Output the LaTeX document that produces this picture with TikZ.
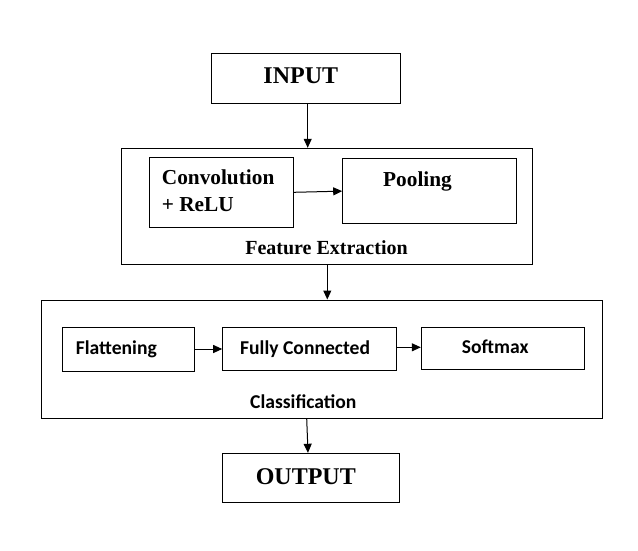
\documentclass[tikz,border=0pt]{standalone}
\usepackage{fontspec}
\setmainfont{Liberation Serif}
\newfontfamily\calfont{Carlito}
\usetikzlibrary{arrows.meta}
\begin{document}
\begin{tikzpicture}[x=1bp,y=-1bp,
  box/.style={draw, line width=1bp, inner sep=0, rectangle},
  arr/.style={draw, line width=1bp, -{Triangle[length=9bp,width=8bp]}},
  bigtxt/.style={font=\fontsize{24bp}{28bp}\selectfont\bfseries, inner sep=0, anchor=base},
  midtxt/.style={font=\fontsize{21.3bp}{26bp}\selectfont\bfseries, inner sep=0, anchor=base west},
  captxt/.style={font=\fontsize{20bp}{24bp}\selectfont\bfseries, inner sep=0, anchor=base},
  caltxt/.style={font=\calfont\fontsize{19.6bp}{24bp}\selectfont\bfseries, inner sep=0, anchor=base west}
]
\useasboundingbox (0,0) rectangle (638,551);

% boxes
\node[box, minimum width=189.7bp, minimum height=50bp] (input) at (305.85,78.3) {};
\node[box, minimum width=410.6bp, minimum height=115.7bp] (feature) at (327,206.15) {};
\node[box, minimum width=144bp, minimum height=70bp] (conv) at (221.3,192.3) {};
\node[box, minimum width=174bp, minimum height=64.3bp] (pool) at (429.7,191.15) {};
\node[box, minimum width=561bp, minimum height=118bp] (class) at (322.2,359) {};
\node[box, minimum width=132bp, minimum height=43.7bp] (flat) at (128.3,349.15) {};
\node[box, minimum width=174bp, minimum height=42.7bp] (fc) at (309.7,348.65) {};
\node[box, minimum width=163bp, minimum height=41.7bp] (soft) at (502.8,348.15) {};
\node[box, minimum width=176.7bp, minimum height=49.4bp] (output) at (310.65,478) {};

% texts
\node[bigtxt] (tin) at (300.8,84) {INPUT};
\node[midtxt] (tconv1) at (161.7,185) {Convolution};
\node[midtxt] (tconv2) at (161.7,211.7) {+ ReLU};
\node[midtxt] (tpool) at (383,186.7) {Pooling};
\node[captxt] (tfeat) at (326.5,255) {Feature Extraction};
\node[caltxt] (tflat) at (75.7,354) {Flattening};
\node[caltxt] (tfc) at (240,354) {Fully Connected};
\node[caltxt] (tsoft) at (461.7,353.5) {Softmax};
\node[caltxt] (tclass) at (250,408.3) {Classification};
\node[bigtxt] (tout) at (305.8,484) {OUTPUT};

% connectors
\draw[arr] (input.south -| 307.7,0) -- (feature.north -| 307.7,0);
\draw[arr] (conv.east) -- (pool.west);
\draw[arr] (feature.south -| 327.3,0) -- (class.north -| 327.3,0);
\draw[arr] (flat.east |- 0,349) -- (fc.west |- 0,349);
\draw[arr] (fc.east |- 0,347.3) -- (soft.west |- 0,347.3);
\draw[arr] (class.south -| 306.7,0) -- (output.north -| 308,0);
\end{tikzpicture}
\end{document}
